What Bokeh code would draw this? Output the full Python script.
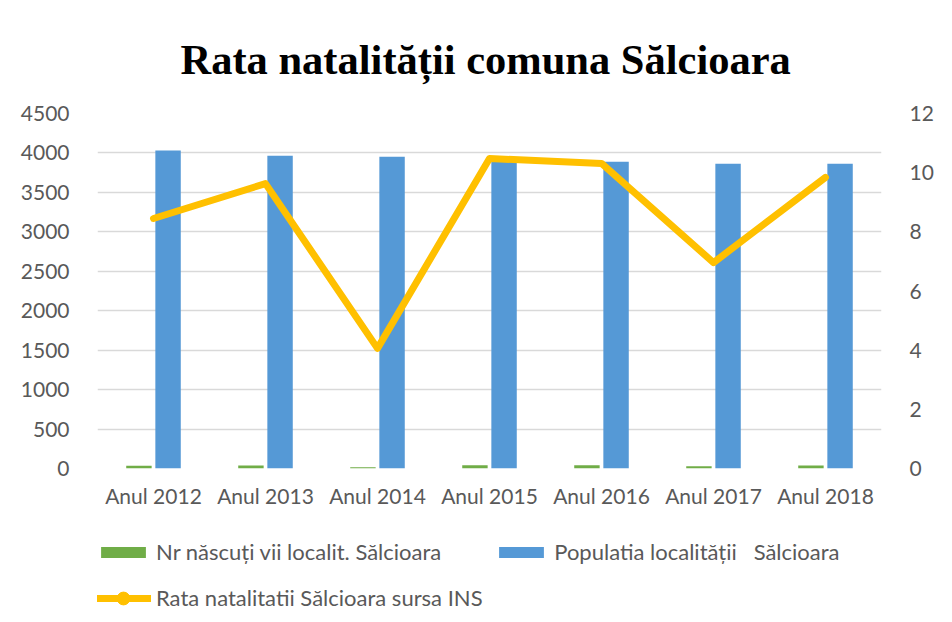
from bokeh.plotting import figure
from bokeh.layouts import column
from bokeh.models import (ColumnDataSource, FactorRange, Range1d, LinearAxis,
                          FixedTicker, Legend, LegendItem)
from bokeh.transform import dodge
from bokeh.embed import file_html
from bokeh.resources import INLINE

years = ["Anul 2012", "Anul 2013", "Anul 2014", "Anul 2015", "Anul 2016", "Anul 2017", "Anul 2018"]
births = [34, 38, 16, 41, 40, 27, 38]
population = [4031, 3966, 3952, 3935, 3888, 3862, 3862]
rate = [8.45, 9.63, 4.06, 10.48, 10.31, 6.96, 9.84]
left_ticks = [0, 500, 1000, 1500, 2000, 2500, 3000, 3500, 4000, 4500]
right_ticks = [0, 2, 4, 6, 8, 10, 12]

title_text = "Rata natalității comuna Sălcioara"
label_births = "Nr născuți vii localit. Sălcioara"
label_pop = "Populatia localității   Sălcioara"
label_rate = "Rata natalitatii Sălcioara sursa INS"

src = ColumnDataSource(dict(year=years, births=births, pop=population, rate=rate))

FONT = "Lato"
GREY = "#595959"
GREEN = "#70ad47"
BLUE = "#5599d6"
GOLD = "#ffc000"
xr = FactorRange(factors=years)

# ---------------- main chart ----------------
p = figure(width=936, height=510, x_range=xr,
           y_range=Range1d(0, 4500), output_backend="svg", toolbar_location=None,
           min_border_left=97, min_border_right=36, min_border_top=113,
           min_border_bottom=42)
p.extra_y_ranges = {"rate": Range1d(0, 12)}
p.outline_line_color = None
p.background_fill_color = "white"
p.border_fill_color = "white"

p.title.text = title_text
p.title.text_font = "Liberation Serif"
p.title.text_font_style = "bold"
p.title.text_font_size = "42.5px"
p.title.text_color = "black"
p.title.align = "left"
p.title.offset = 83
p.title.standoff = 61

p.vbar(x=dodge("year", -0.13, range=xr), top="births", width=0.227,
       source=src, fill_color=GREEN, line_color=None)
p.vbar(x=dodge("year", 0.13, range=xr), top="pop", width=0.227,
       source=src, fill_color=BLUE, line_color=None)
p.line(x="year", y="rate", source=src, y_range_name="rate",
       line_color=GOLD, line_width=7, line_join="round", line_cap="round")

for ax in [p.xaxis[0], p.yaxis[0]]:
    ax.axis_line_color = None
    ax.major_tick_line_color = None
    ax.minor_tick_line_color = None
    ax.major_label_text_font = FONT
    ax.major_label_text_font_size = "21px"
    ax.major_label_text_color = GREY
p.xaxis.major_label_standoff = 8
p.yaxis.ticker = FixedTicker(ticks=left_ticks)
p.yaxis.major_label_standoff = 22

ax_r = LinearAxis(y_range_name="rate", ticker=FixedTicker(ticks=right_ticks))
ax_r.axis_line_color = None
ax_r.major_tick_line_color = None
ax_r.minor_tick_line_color = None
ax_r.major_label_text_font = FONT
ax_r.major_label_text_font_size = "21px"
ax_r.major_label_text_color = GREY
ax_r.major_label_standoff = 22
p.add_layout(ax_r, "right")

p.xgrid.grid_line_color = None
p.ygrid.ticker = FixedTicker(ticks=left_ticks)
p.ygrid.grid_line_color = "#d9d9d9"
p.ygrid.grid_line_width = 1.5

# ---------------- legend strip (same series, kept out of view) ----------------
lf = figure(width=936, height=104, x_range=xr, y_range=Range1d(5000, 6000),
            output_backend="svg", toolbar_location=None,
            min_border_left=97, min_border_right=36,
            min_border_top=0, min_border_bottom=0)
lf.extra_y_ranges = {"rate": Range1d(20, 30)}
lf.axis.visible = False
lf.grid.grid_line_color = None
lf.outline_line_color = None
lf.background_fill_color = "white"
lf.border_fill_color = "white"

l_b = lf.vbar(x=dodge("year", -0.13, range=xr), top="births", width=0.227,
              source=src, fill_color=GREEN, line_color=None)
l_p = lf.vbar(x=dodge("year", 0.13, range=xr), top="pop", width=0.227,
              source=src, fill_color=BLUE, line_color=None)
l_l = lf.line(x="year", y="rate", source=src, y_range_name="rate",
              line_color=GOLD, line_width=7, line_cap="round")
l_m = lf.scatter(x="year", y="rate", source=src, y_range_name="rate", size=13,
                 marker="circle", fill_color=GOLD, line_color=GOLD)

common = dict(margin=0, padding=0, label_height=37, glyph_width=56,
              label_standoff=5, label_text_font=FONT, label_text_font_size="22px",
              label_text_color=GREY, border_line_color=None, background_fill_alpha=0)

legend_bars = Legend(items=[LegendItem(label=label_births, renderers=[l_b]),
                            LegendItem(label=label_pop, renderers=[l_p])],
                     orientation="horizontal", location=(-2, 44), spacing=52,
                     glyph_height=14, **common)
legend_line = Legend(items=[LegendItem(label=label_rate, renderers=[l_l, l_m])],
                     orientation="horizontal", location=(-2, -2), spacing=0,
                     glyph_height=32, **common)
lf.add_layout(legend_bars, "center")
lf.add_layout(legend_line, "center")

open("out.html", "w").write(file_html(column(p, lf, spacing=0), INLINE))
